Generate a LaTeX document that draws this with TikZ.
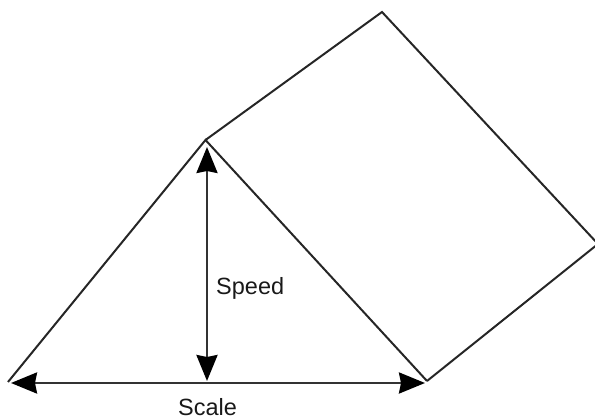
\documentclass[tikz,border=0pt]{standalone}
\usepackage{fontspec}
\setmainfont{Liberation Sans}
\usetikzlibrary{arrows.meta}
\tikzset{edge/.style={line width=2pt,black!85,line join=miter},dim/.style={line width=2.6pt,black!80,{Stealth[length=26pt,width=21pt,inset=2pt,color=black]}-{Stealth[length=26pt,width=21pt,inset=2pt,color=black]}},lbl/.style={font=\fontsize{23.5}{28}\selectfont,inner sep=0pt,text=black!90}}
\begin{document}
\begin{tikzpicture}[x=1pt,y=-1pt]
\useasboundingbox (0,0) rectangle (595,419);
\coordinate (apex) at (205.5,140);
\coordinate (left) at (8,382);
\coordinate (right) at (427,381);
\coordinate (top) at (382,12);
\coordinate (far) at (598,244);
\coordinate (up) at (207,147);
\coordinate (down) at (207,381);
\coordinate (dl) at (11,383);
\coordinate (dr) at (425,383);
\draw[edge] (left) -- (apex) -- (right);
\draw[edge] (apex) -- (top) -- (far) -- (right);
\draw[dim] (up) -- (down);
\draw[dim] (dl) -- (dr);
\node[lbl,anchor=base west] (speed) at (216,295) {Speed};
\node[lbl,anchor=base west] (scale) at (178,415.5) {Scale};
\end{tikzpicture}
\end{document}
